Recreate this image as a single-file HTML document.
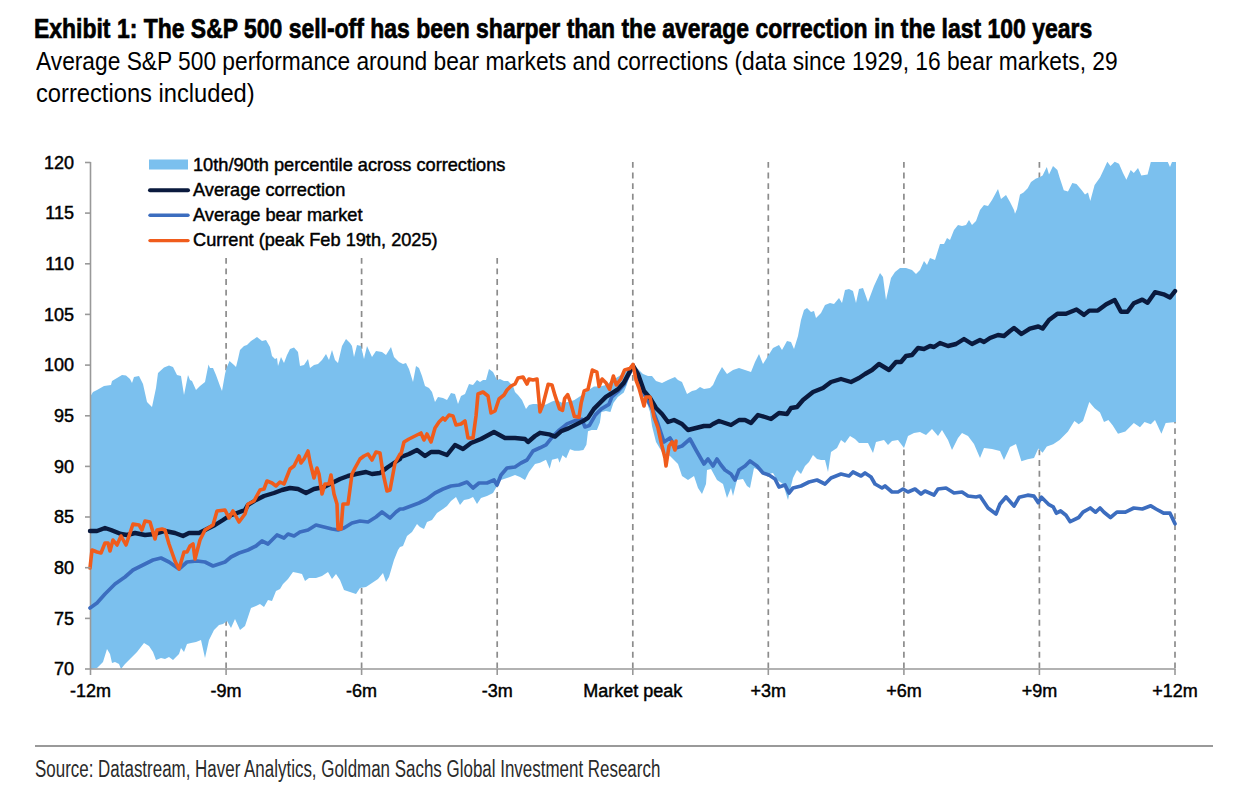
<!DOCTYPE html>
<html><head><meta charset="utf-8"><style>
html,body{margin:0;padding:0;background:#fff;}
body{width:1258px;height:801px;position:relative;overflow:hidden;}
.tx{position:absolute;white-space:nowrap;font-family:"Liberation Sans",sans-serif;transform-origin:0 0;line-height:1;}
#title{left:34px;top:15px;font-size:28px;font-weight:bold;color:#000;transform:scaleX(0.8196);-webkit-text-stroke:0.7px #000;}
#sub1{left:36px;top:49px;font-size:25px;color:#000;transform:scaleX(0.910);}
#sub2{left:36px;top:81px;font-size:25px;color:#000;transform:scaleX(0.948);}
#src{left:35px;top:758px;font-size:23.5px;color:#2a2a2a;transform:scaleX(0.721);}
svg{position:absolute;left:0;top:0;}
.t{font-family:"Liberation Sans",sans-serif;font-size:18px;fill:#000;stroke:#000;stroke-width:0.45px;}
</style></head><body>
<svg width="1258" height="801" viewBox="0 0 1258 801">
<line x1="226.1" y1="161.9" x2="226.1" y2="669" stroke="#8c8c8c" stroke-width="1.7" stroke-dasharray="5.9 4.75"/>
<line x1="361.6" y1="161.9" x2="361.6" y2="669" stroke="#8c8c8c" stroke-width="1.7" stroke-dasharray="5.9 4.75"/>
<line x1="497.2" y1="161.9" x2="497.2" y2="669" stroke="#8c8c8c" stroke-width="1.7" stroke-dasharray="5.9 4.75"/>
<line x1="632.8" y1="161.9" x2="632.8" y2="669" stroke="#8c8c8c" stroke-width="1.7" stroke-dasharray="5.9 4.75"/>
<line x1="768.3" y1="161.9" x2="768.3" y2="669" stroke="#8c8c8c" stroke-width="1.7" stroke-dasharray="5.9 4.75"/>
<line x1="903.9" y1="161.9" x2="903.9" y2="669" stroke="#8c8c8c" stroke-width="1.7" stroke-dasharray="5.9 4.75"/>
<line x1="1039.4" y1="161.9" x2="1039.4" y2="669" stroke="#8c8c8c" stroke-width="1.7" stroke-dasharray="5.9 4.75"/>
<line x1="1175.0" y1="161.9" x2="1175.0" y2="669" stroke="#8c8c8c" stroke-width="1.7" stroke-dasharray="5.9 4.75"/>
<path d="M90.0,397.0 L93.0,392.0 L97.0,390.0 L104.0,386.0 L111.0,385.0 L112.0,381.0 L117.0,378.0 L122.0,375.0 L126.0,375.6 L130.0,379.0 L132.0,383.0 L134.0,377.0 L139.0,376.0 L143.0,384.0 L147.0,402.0 L152.0,407.0 L156.0,388.0 L158.0,373.0 L164.0,367.6 L169.0,365.6 L173.0,367.0 L177.0,375.0 L181.0,376.0 L184.0,395.0 L188.0,375.0 L190.0,380.0 L192.0,381.0 L196.0,390.0 L200.0,386.0 L205.0,382.0 L208.5,364.5 L210.0,368.0 L213.0,368.0 L216.0,375.0 L220.0,386.0 L222.0,391.0 L225.0,374.0 L226.5,368.0 L229.5,361.0 L234.0,365.0 L236.0,367.0 L238.0,359.0 L240.0,350.0 L244.0,346.0 L247.0,345.0 L251.0,341.0 L257.0,337.0 L262.0,341.0 L266.0,340.0 L270.0,347.0 L272.0,356.0 L275.0,359.0 L277.0,358.0 L278.0,366.0 L281.0,357.0 L284.0,363.0 L287.0,355.0 L290.0,349.0 L294.0,347.6 L298.0,352.0 L300.0,366.0 L304.0,365.0 L308.0,359.0 L310.0,368.0 L314.0,365.0 L318.0,364.0 L322.0,360.0 L326.0,354.0 L329.0,360.0 L332.0,350.0 L335.0,360.0 L338.0,363.0 L342.0,346.0 L346.0,339.0 L350.0,343.0 L352.0,346.0 L354.0,357.0 L357.0,345.0 L361.0,346.0 L364.0,359.0 L367.0,346.0 L372.0,357.0 L376.0,351.0 L382.0,352.0 L386.0,355.0 L391.0,347.0 L394.0,357.0 L399.0,362.0 L403.0,364.0 L406.0,363.0 L409.0,369.0 L413.0,382.0 L416.0,366.0 L419.0,368.0 L422.0,376.0 L425.0,386.0 L429.0,388.0 L432.0,392.0 L435.0,402.0 L438.0,397.0 L443.0,398.0 L447.0,400.0 L451.0,393.0 L455.0,394.0 L458.0,404.0 L461.0,396.0 L465.0,394.0 L469.0,384.0 L473.0,385.0 L477.0,380.0 L480.0,382.0 L483.0,380.0 L486.0,380.0 L489.0,369.0 L493.0,372.0 L497.0,380.0 L500.0,379.0 L504.0,381.0 L508.0,381.0 L513.0,386.0 L515.0,392.0 L518.0,395.0 L522.0,400.0 L526.0,409.0 L529.0,405.0 L533.0,404.0 L537.0,404.0 L540.0,405.9 L546.0,404.4 L552.0,401.4 L556.5,399.9 L562.5,402.9 L570.0,401.4 L574.4,399.9 L579.0,396.9 L583.4,393.9 L589.4,389.4 L593.9,386.4 L599.9,386.4 L605.9,384.9 L611.9,380.4 L619.3,376.0 L625.3,371.5 L633.0,364.5 L638.0,369.0 L643.0,374.0 L648.0,376.0 L652.0,376.0 L656.0,381.0 L662.0,383.0 L668.0,380.0 L675.0,377.0 L678.0,380.0 L682.0,382.0 L687.0,394.0 L692.0,391.0 L696.0,390.0 L700.0,387.0 L704.0,389.0 L710.0,388.0 L713.0,385.0 L717.0,376.0 L722.0,367.0 L727.0,374.0 L733.0,370.0 L739.0,368.0 L745.0,370.0 L751.0,372.0 L755.0,362.0 L759.0,354.0 L763.0,364.0 L768.0,356.0 L773.0,348.0 L779.0,345.0 L782.0,350.0 L787.0,341.0 L791.0,342.0 L794.0,349.0 L798.0,336.0 L801.0,320.0 L804.0,310.0 L807.0,308.0 L811.0,312.0 L814.0,311.0 L816.0,318.0 L821.0,313.0 L825.0,305.0 L830.0,303.0 L834.0,304.0 L839.0,298.0 L842.0,303.0 L845.0,290.0 L849.0,289.0 L853.0,291.0 L856.0,303.0 L859.0,289.0 L863.0,288.0 L868.0,302.0 L874.0,286.0 L880.0,273.0 L883.0,277.0 L886.0,300.0 L891.0,278.0 L895.0,272.0 L900.0,268.0 L906.0,268.0 L912.0,270.0 L916.0,274.0 L920.0,270.0 L924.0,261.0 L927.0,265.0 L930.0,258.0 L935.0,260.0 L940.0,244.0 L944.0,244.0 L947.0,238.0 L950.0,240.0 L954.0,230.0 L958.0,225.0 L962.0,226.0 L966.0,225.0 L969.0,220.0 L972.0,225.0 L976.0,221.0 L980.0,210.0 L984.0,205.0 L988.0,206.0 L992.0,200.0 L998.0,189.0 L1001.0,199.0 L1006.0,195.0 L1010.0,202.0 L1014.0,210.0 L1015.0,213.7 L1017.0,209.0 L1020.0,194.6 L1023.5,192.4 L1027.7,188.2 L1031.0,182.0 L1036.0,178.6 L1039.0,177.6 L1042.6,175.5 L1046.8,167.0 L1049.0,174.4 L1053.0,166.0 L1057.4,170.0 L1059.6,177.6 L1063.8,190.3 L1068.0,191.4 L1072.3,183.0 L1076.5,184.0 L1081.8,190.3 L1085.0,194.6 L1088.0,192.4 L1090.3,201.0 L1094.6,185.0 L1100.0,177.6 L1104.0,169.0 L1107.3,161.7 L1110.5,166.0 L1114.7,161.7 L1119.0,163.8 L1123.0,173.0 L1126.4,179.7 L1130.7,170.0 L1133.8,173.0 L1138.0,168.0 L1141.3,175.5 L1147.6,174.4 L1150.8,162.0 L1167.8,162.0 L1170.0,167.0 L1172.0,162.0 L1176.0,162.0 L1176.0,422.0 L1165.7,423.0 L1161.4,433.7 L1155.0,420.0 L1150.8,424.2 L1144.5,422.0 L1140.0,427.3 L1133.8,423.0 L1125.4,431.6 L1118.0,433.7 L1112.6,425.2 L1108.4,420.0 L1104.0,422.0 L1100.0,412.5 L1094.6,408.2 L1089.3,401.9 L1083.0,421.0 L1078.7,424.2 L1074.4,421.0 L1068.0,431.6 L1059.6,440.0 L1053.2,444.3 L1046.8,446.4 L1042.6,452.8 L1038.3,448.6 L1034.0,458.1 L1027.7,459.2 L1021.4,461.3 L1016.0,444.0 L1010.0,447.0 L1004.0,460.0 L1000.0,451.0 L992.0,449.0 L984.0,448.0 L980.0,458.0 L974.0,444.0 L968.0,436.0 L962.0,433.0 L958.0,438.0 L952.0,450.0 L948.0,440.0 L942.0,430.0 L938.0,436.0 L932.0,429.0 L926.0,435.0 L920.0,432.0 L914.0,433.0 L908.0,436.0 L904.0,448.0 L898.0,440.0 L892.0,441.0 L888.0,445.0 L884.0,440.0 L876.0,442.0 L873.0,453.0 L868.0,443.0 L859.0,443.0 L855.0,439.0 L850.0,436.0 L845.0,443.0 L841.0,440.0 L837.0,448.0 L831.0,452.0 L828.0,472.0 L825.0,460.0 L821.0,460.0 L817.0,459.0 L813.0,455.0 L809.0,462.0 L805.0,466.0 L801.0,474.0 L797.0,470.0 L793.0,478.0 L791.0,486.0 L788.0,500.0 L783.0,484.0 L777.0,480.0 L773.0,473.0 L765.0,475.0 L759.0,470.0 L754.0,468.0 L750.0,488.0 L747.0,486.0 L743.0,479.0 L737.0,480.0 L733.0,496.0 L731.0,488.0 L727.0,498.0 L723.0,484.0 L717.0,480.0 L711.0,469.0 L707.0,470.0 L706.0,484.0 L702.0,494.0 L698.0,488.0 L694.0,476.0 L688.0,480.0 L682.0,476.0 L678.0,464.0 L670.0,456.0 L662.0,452.0 L656.0,442.0 L652.0,426.0 L650.0,412.0 L644.0,394.0 L638.0,376.0 L633.0,365.5 L629.8,374.5 L626.8,385.0 L623.8,392.4 L617.8,396.9 L613.4,402.9 L610.4,411.9 L605.9,411.1 L601.4,411.9 L599.9,422.4 L596.9,429.9 L591.6,429.9 L588.0,431.3 L586.4,444.8 L583.4,450.0 L579.0,450.8 L574.4,450.8 L570.0,449.3 L566.2,458.3 L562.5,455.3 L559.5,462.8 L558.0,458.3 L552.0,459.8 L549.7,468.8 L546.0,459.8 L540.0,462.8 L535.0,464.0 L529.0,472.0 L525.0,480.0 L520.0,477.0 L515.0,475.0 L507.0,478.0 L501.0,480.0 L497.0,486.0 L493.0,493.0 L487.0,496.0 L481.0,498.0 L477.0,504.0 L473.0,497.0 L469.0,499.0 L464.0,500.0 L460.0,505.0 L456.0,497.0 L451.0,501.0 L447.0,506.0 L443.0,509.0 L437.0,513.0 L432.0,520.0 L427.0,522.0 L424.0,529.0 L420.0,527.0 L417.0,524.0 L412.0,532.0 L407.0,536.0 L403.0,546.0 L400.0,547.0 L398.0,550.0 L394.0,560.0 L389.0,577.0 L386.0,582.0 L383.0,573.0 L378.0,579.0 L372.0,583.0 L366.0,587.0 L360.0,588.0 L356.0,594.0 L350.0,592.0 L344.0,590.0 L340.0,580.0 L336.0,574.0 L332.0,579.0 L328.0,572.0 L322.0,576.0 L316.0,578.0 L309.0,578.0 L305.0,581.0 L302.0,574.0 L298.0,573.0 L293.0,572.0 L288.0,579.0 L283.0,584.0 L280.0,589.0 L276.0,591.0 L272.0,601.0 L268.0,600.0 L264.0,607.0 L260.0,604.0 L256.0,606.0 L251.0,608.0 L245.0,626.0 L240.0,630.0 L235.0,619.0 L231.0,628.0 L227.0,621.0 L223.0,624.0 L219.0,625.0 L214.0,630.0 L209.0,640.0 L205.0,658.0 L201.0,640.0 L196.0,642.0 L191.0,643.0 L187.0,644.0 L184.0,652.0 L181.0,648.0 L179.0,654.0 L173.0,660.0 L169.0,657.0 L165.0,659.0 L161.0,658.0 L156.0,660.0 L153.0,652.0 L149.0,646.0 L144.0,643.0 L137.0,652.0 L131.0,658.0 L125.0,664.0 L121.0,669.0 L119.0,664.0 L115.0,662.0 L112.0,663.0 L110.0,654.0 L107.0,649.0 L103.0,662.0 L97.0,668.0 L90.0,669.0 Z" fill="#7bc0ee"/>
<line x1="90.5" y1="162" x2="90.5" y2="669" stroke="#999999" stroke-width="1.6"/>
<line x1="90" y1="669" x2="1175.5" y2="669" stroke="#999999" stroke-width="1.6"/>
<rect x="140" y="148" width="372" height="110" fill="#fff"/>
<path d="M90.0,608.0 L97.0,603.0 L105.0,594.0 L115.0,584.0 L125.0,577.0 L133.0,570.0 L145.0,564.0 L153.0,560.0 L161.0,558.0 L169.0,562.0 L179.0,569.0 L187.0,562.0 L197.0,561.0 L205.0,562.0 L213.0,566.0 L225.0,562.0 L231.0,557.0 L239.0,553.0 L245.0,551.0 L248.0,550.0 L256.0,546.0 L262.0,541.0 L268.0,544.0 L277.0,535.0 L284.0,538.0 L288.0,534.0 L294.0,536.0 L300.0,532.0 L308.0,530.0 L316.0,525.0 L324.0,527.0 L332.0,529.0 L338.0,530.0 L344.0,528.0 L352.0,523.0 L360.0,521.0 L368.0,522.0 L376.0,517.0 L382.0,512.0 L390.0,518.0 L396.0,512.0 L400.0,509.0 L403.0,509.0 L411.0,506.0 L419.0,503.0 L427.0,499.0 L435.0,493.0 L443.0,489.0 L451.0,486.0 L459.0,485.0 L467.0,482.0 L473.0,488.0 L479.0,483.0 L487.0,483.0 L494.0,480.0 L497.0,485.0 L501.0,475.0 L507.0,468.0 L515.0,467.0 L521.0,463.0 L527.0,460.0 L533.0,451.0 L540.0,447.8 L546.0,444.8 L552.0,437.3 L559.5,429.9 L567.0,423.9 L574.4,420.9 L581.9,419.4 L584.9,426.9 L589.4,425.4 L595.4,414.9 L601.4,408.9 L608.9,404.4 L611.9,396.9 L617.8,391.7 L623.8,384.9 L629.8,373.0 L633.0,365.5 L638.0,382.0 L644.0,394.0 L652.0,408.0 L658.0,424.0 L664.0,442.0 L670.0,438.0 L676.0,448.0 L682.0,446.0 L690.0,439.0 L696.0,450.0 L704.0,464.0 L708.0,459.0 L713.0,466.0 L717.0,459.0 L721.0,465.0 L725.0,470.0 L731.0,474.0 L735.0,480.0 L739.0,470.0 L745.0,466.0 L750.0,461.0 L757.0,466.0 L763.0,473.0 L769.0,475.0 L775.0,479.0 L779.0,487.0 L785.0,485.0 L789.0,493.0 L793.0,488.0 L801.0,486.0 L809.0,482.0 L817.0,480.0 L825.0,484.0 L831.0,478.0 L841.0,474.0 L849.0,476.0 L853.0,472.0 L861.0,476.0 L865.0,473.0 L871.0,477.0 L875.0,484.0 L882.0,488.0 L885.0,486.0 L892.0,492.0 L898.0,492.0 L903.0,489.0 L908.0,492.0 L915.0,489.0 L921.0,494.0 L925.0,491.0 L934.0,495.0 L938.0,489.0 L946.0,488.0 L954.0,493.0 L962.0,492.0 L968.0,496.0 L976.0,497.0 L980.0,496.0 L988.0,508.0 L996.0,514.0 L1000.0,504.0 L1006.0,497.0 L1014.0,506.0 L1019.2,497.3 L1027.7,495.2 L1034.0,496.2 L1038.3,502.6 L1041.5,497.3 L1049.0,504.7 L1053.2,506.8 L1056.4,513.2 L1060.6,511.0 L1066.0,515.3 L1070.2,521.7 L1078.7,517.5 L1083.0,512.2 L1090.3,508.0 L1095.6,512.2 L1100.0,508.0 L1104.0,512.2 L1110.5,517.5 L1116.9,512.2 L1125.4,512.2 L1133.8,508.0 L1142.3,509.0 L1150.8,505.8 L1156.0,509.0 L1163.6,513.2 L1170.0,513.2 L1175.0,523.8" fill="none" stroke="#3c6dbf" stroke-width="3.7" stroke-linejoin="round" stroke-linecap="round"/>
<path d="M90.0,531.0 L97.0,531.0 L105.0,528.0 L111.0,530.0 L121.0,534.0 L127.0,535.0 L135.0,533.0 L145.0,535.0 L155.0,534.0 L165.0,531.0 L175.0,533.0 L183.0,536.0 L189.0,533.0 L199.0,533.0 L207.0,529.0 L215.0,525.0 L223.0,520.0 L229.0,516.0 L237.0,513.0 L245.0,510.0 L248.0,505.0 L256.0,500.0 L264.0,496.0 L274.0,493.0 L282.0,490.0 L290.0,488.0 L298.0,489.0 L306.0,493.0 L314.0,489.0 L324.0,487.0 L332.0,483.0 L340.0,479.0 L348.0,476.0 L356.0,474.0 L366.0,472.0 L372.0,474.0 L380.0,473.0 L388.0,467.0 L394.0,463.0 L400.0,459.0 L401.0,457.0 L409.0,454.0 L417.0,450.0 L425.0,456.0 L431.0,452.0 L439.0,452.0 L447.0,455.0 L455.0,445.0 L463.0,449.0 L471.0,443.0 L481.0,439.0 L494.0,432.0 L505.0,438.0 L515.0,438.0 L525.0,439.0 L528.0,442.0 L535.0,436.0 L540.0,432.8 L549.0,434.3 L555.0,436.6 L561.0,431.3 L568.4,428.4 L577.4,423.9 L583.4,420.9 L588.0,417.9 L593.9,408.9 L599.9,402.9 L605.9,396.9 L611.9,393.2 L617.8,389.4 L623.8,382.7 L629.8,371.5 L633.0,365.5 L638.0,374.0 L644.0,391.0 L650.0,398.0 L656.0,408.0 L662.0,414.0 L668.0,422.0 L674.0,420.0 L682.0,424.0 L688.0,430.0 L696.0,428.0 L704.0,426.0 L710.0,426.0 L713.0,424.0 L719.0,421.0 L725.0,423.0 L731.0,425.0 L739.0,420.0 L745.0,420.0 L751.0,423.0 L758.0,415.0 L765.0,417.0 L771.0,419.0 L779.0,413.0 L787.0,414.0 L791.0,408.0 L797.0,407.0 L803.0,400.0 L813.0,392.0 L823.0,388.0 L831.0,382.0 L841.0,379.0 L851.0,382.0 L859.0,378.0 L865.0,374.0 L872.0,370.0 L879.0,364.0 L889.0,370.0 L896.0,362.0 L901.0,362.0 L906.0,356.0 L912.0,355.0 L918.0,348.0 L924.0,349.0 L930.0,346.0 L934.0,347.0 L940.0,343.0 L948.0,346.0 L956.0,344.0 L964.0,339.0 L972.0,344.0 L980.0,340.0 L984.0,342.0 L990.0,338.0 L998.0,335.0 L1004.0,336.0 L1010.0,331.0 L1014.0,328.0 L1021.4,334.0 L1029.9,328.6 L1038.3,326.5 L1042.6,328.6 L1049.0,320.0 L1057.4,313.8 L1066.0,313.8 L1076.5,309.5 L1084.0,314.9 L1089.3,310.6 L1097.8,310.6 L1106.3,304.2 L1114.7,300.0 L1121.0,311.7 L1127.5,311.7 L1133.8,303.2 L1142.3,299.6 L1147.6,302.8 L1155.0,292.2 L1163.6,294.3 L1170.0,297.5 L1175.0,291.1" fill="none" stroke="#0a1a3e" stroke-width="4.4" stroke-linejoin="round" stroke-linecap="round"/>
<path d="M90.0,568.0 L92.0,550.0 L97.0,552.0 L101.0,553.0 L105.0,543.0 L108.0,543.0 L110.0,551.0 L113.0,540.0 L117.0,545.0 L121.0,536.0 L126.0,545.0 L129.0,536.0 L133.0,524.0 L139.0,525.0 L142.0,530.0 L145.0,521.0 L150.0,522.0 L155.0,539.0 L157.0,530.0 L162.0,529.0 L165.0,530.0 L169.0,544.0 L175.0,561.0 L179.0,569.0 L184.0,552.0 L187.0,552.0 L190.0,546.0 L193.0,544.0 L195.0,559.0 L200.0,540.0 L205.0,530.0 L213.0,525.0 L217.0,511.0 L225.0,510.0 L229.0,518.0 L233.0,511.0 L239.0,522.0 L245.0,514.0 L248.0,504.0 L254.0,501.0 L260.0,490.0 L264.0,489.0 L267.0,481.0 L272.0,483.0 L276.0,486.0 L280.0,482.0 L284.0,484.0 L290.0,469.0 L294.0,466.0 L299.0,456.0 L301.0,463.0 L304.0,459.0 L308.0,451.0 L310.0,462.0 L314.0,478.0 L317.0,468.0 L319.0,474.0 L322.0,494.0 L325.0,484.0 L329.0,484.0 L331.0,475.0 L334.0,494.0 L337.0,504.0 L338.0,529.0 L341.0,529.0 L343.0,504.0 L348.0,504.0 L352.0,474.0 L355.0,468.0 L360.0,459.0 L364.0,456.0 L368.0,454.0 L372.0,460.0 L376.0,452.0 L380.0,453.0 L383.0,473.0 L387.0,491.0 L390.0,490.0 L395.0,463.0 L400.0,454.0 L401.0,454.0 L404.0,442.0 L409.0,439.0 L415.0,436.0 L421.0,433.0 L424.0,440.0 L427.0,434.0 L431.0,442.0 L435.0,428.0 L439.0,422.0 L443.0,418.0 L445.0,420.0 L449.0,415.0 L453.0,416.0 L456.0,425.0 L461.0,424.0 L465.0,421.0 L468.0,438.0 L473.0,438.0 L476.0,416.0 L478.0,394.0 L483.0,392.0 L488.0,396.0 L491.0,413.0 L495.0,411.0 L499.0,399.0 L504.0,395.0 L507.0,390.0 L511.0,386.0 L515.0,384.0 L518.0,378.0 L523.0,377.0 L527.0,384.0 L529.0,379.0 L533.0,380.0 L537.0,379.0 L540.0,411.9 L543.0,404.4 L548.2,384.2 L552.0,384.9 L555.0,395.4 L559.5,408.9 L562.5,410.4 L564.7,398.4 L567.7,394.7 L570.7,402.9 L574.4,416.4 L579.0,417.1 L581.2,402.9 L584.2,390.9 L588.0,389.4 L592.4,370.0 L596.9,372.2 L599.1,386.4 L602.1,379.0 L605.9,382.7 L609.6,389.4 L613.4,376.0 L616.3,385.0 L620.8,379.0 L624.6,370.0 L629.8,368.5 L633.0,364.5 L636.0,380.0 L639.0,388.0 L644.0,406.0 L646.0,397.0 L650.0,397.0 L654.0,417.0 L658.0,428.0 L661.0,442.0 L665.0,458.0 L666.0,466.0 L669.0,446.0 L672.0,442.0 L675.0,450.0 L676.0,441.0" fill="none" stroke="#f05c1c" stroke-width="3.6" stroke-linejoin="round" stroke-linecap="round"/>
<line x1="85" y1="669.0" x2="90.5" y2="669.0" stroke="#999999" stroke-width="1.6"/>
<text x="74" y="675.3" text-anchor="end" class="t">70</text>
<line x1="85" y1="618.4" x2="90.5" y2="618.4" stroke="#999999" stroke-width="1.6"/>
<text x="74" y="624.6" text-anchor="end" class="t">75</text>
<line x1="85" y1="567.7" x2="90.5" y2="567.7" stroke="#999999" stroke-width="1.6"/>
<text x="74" y="574.0" text-anchor="end" class="t">80</text>
<line x1="85" y1="517.0" x2="90.5" y2="517.0" stroke="#999999" stroke-width="1.6"/>
<text x="74" y="523.3" text-anchor="end" class="t">85</text>
<line x1="85" y1="466.4" x2="90.5" y2="466.4" stroke="#999999" stroke-width="1.6"/>
<text x="74" y="472.7" text-anchor="end" class="t">90</text>
<line x1="85" y1="415.8" x2="90.5" y2="415.8" stroke="#999999" stroke-width="1.6"/>
<text x="74" y="422.1" text-anchor="end" class="t">95</text>
<line x1="85" y1="365.1" x2="90.5" y2="365.1" stroke="#999999" stroke-width="1.6"/>
<text x="74" y="371.4" text-anchor="end" class="t">100</text>
<line x1="85" y1="314.4" x2="90.5" y2="314.4" stroke="#999999" stroke-width="1.6"/>
<text x="74" y="320.8" text-anchor="end" class="t">105</text>
<line x1="85" y1="263.8" x2="90.5" y2="263.8" stroke="#999999" stroke-width="1.6"/>
<text x="74" y="270.1" text-anchor="end" class="t">110</text>
<line x1="85" y1="213.1" x2="90.5" y2="213.1" stroke="#999999" stroke-width="1.6"/>
<text x="74" y="219.4" text-anchor="end" class="t">115</text>
<line x1="85" y1="162.5" x2="90.5" y2="162.5" stroke="#999999" stroke-width="1.6"/>
<text x="74" y="168.8" text-anchor="end" class="t">120</text>
<line x1="90.5" y1="669" x2="90.5" y2="675" stroke="#999999" stroke-width="1.6"/>
<text x="90.5" y="696.5" text-anchor="middle" class="t">-12m</text>
<line x1="226.1" y1="669" x2="226.1" y2="675" stroke="#999999" stroke-width="1.6"/>
<text x="226.1" y="696.5" text-anchor="middle" class="t">-9m</text>
<line x1="361.6" y1="669" x2="361.6" y2="675" stroke="#999999" stroke-width="1.6"/>
<text x="361.6" y="696.5" text-anchor="middle" class="t">-6m</text>
<line x1="497.2" y1="669" x2="497.2" y2="675" stroke="#999999" stroke-width="1.6"/>
<text x="497.2" y="696.5" text-anchor="middle" class="t">-3m</text>
<line x1="632.8" y1="669" x2="632.8" y2="675" stroke="#999999" stroke-width="1.6"/>
<text x="632.8" y="696.5" text-anchor="middle" class="t">Market peak</text>
<line x1="768.3" y1="669" x2="768.3" y2="675" stroke="#999999" stroke-width="1.6"/>
<text x="768.3" y="696.5" text-anchor="middle" class="t">+3m</text>
<line x1="903.9" y1="669" x2="903.9" y2="675" stroke="#999999" stroke-width="1.6"/>
<text x="903.9" y="696.5" text-anchor="middle" class="t">+6m</text>
<line x1="1039.4" y1="669" x2="1039.4" y2="675" stroke="#999999" stroke-width="1.6"/>
<text x="1039.4" y="696.5" text-anchor="middle" class="t">+9m</text>
<line x1="1175.0" y1="669" x2="1175.0" y2="675" stroke="#999999" stroke-width="1.6"/>
<text x="1175.0" y="696.5" text-anchor="middle" class="t">+12m</text>
<rect x="149" y="159.5" width="39" height="10" fill="#7bc0ee"/>
<line x1="150" y1="190.2" x2="188" y2="190.2" stroke="#0a1a3e" stroke-width="4" stroke-linecap="round"/>
<line x1="150" y1="215.2" x2="188" y2="215.2" stroke="#3c6dbf" stroke-width="3.4" stroke-linecap="round"/>
<line x1="150" y1="240.6" x2="188" y2="240.6" stroke="#f05c1c" stroke-width="3.4" stroke-linecap="round"/>
<text x="193" y="170.6" class="t" style="font-size:18.2px">10th/90th percentile across corrections</text>
<text x="193" y="195.8" class="t" style="font-size:18.2px">Average correction</text>
<text x="193" y="221.0" class="t" style="font-size:18.2px">Average bear market</text>
<text x="193" y="246.2" class="t" style="font-size:18.2px">Current (peak Feb 19th, 2025)</text>
<line x1="35" y1="746" x2="1213" y2="746" stroke="#999" stroke-width="2"/>
</svg>
<div class="tx" id="title">Exhibit 1: The S&amp;P 500 sell-off has been sharper than the average correction in the last 100 years</div>
<div class="tx" id="sub1">Average S&amp;P 500 performance around bear markets and corrections (data since 1929, 16 bear markets, 29</div>
<div class="tx" id="sub2">corrections included)</div>
<div class="tx" id="src">Source: Datastream, Haver Analytics, Goldman Sachs Global Investment Research</div>
</body></html>
